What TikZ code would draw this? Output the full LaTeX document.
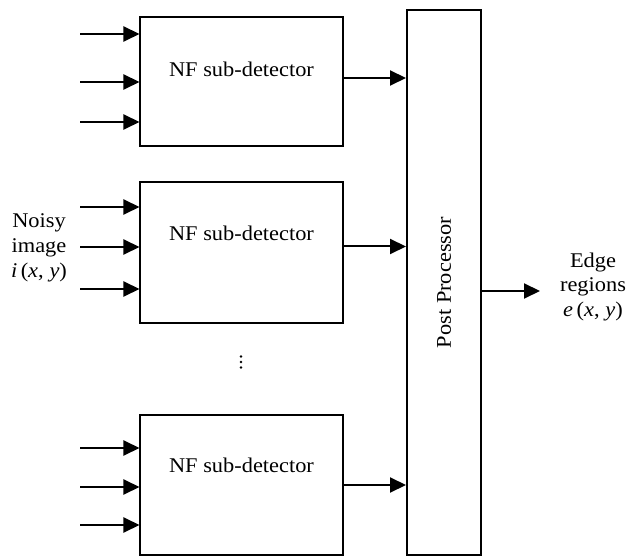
\documentclass[tikz,border=0pt]{standalone}
\usepackage{fontspec}
\setmainfont{Liberation Serif}[FakeStretch=1.07]
\usetikzlibrary{arrows.meta,positioning}

\begin{document}
\begin{tikzpicture}[
  x=0.5bp, y=-0.5bp,
  font=\fontsize{10.5}{12.5}\selectfont,
  det/.style={draw, line width=1bp, minimum width=101bp, inner sep=0pt},
  post/.style={draw, line width=1bp, minimum width=37bp, minimum height=272.5bp, inner sep=0pt},
  lbl/.style={align=center, inner sep=0pt},
  arrow/.style={-{Triangle[length=8bp, width=7.5bp]}, line width=1bp}]
  \useasboundingbox (0,0) rectangle (628,556);
  % sub-detectors
  \node[det, minimum height=64.5bp, label={[anchor=center, yshift=-26.5bp]north:NF sub-detector}] (det1) at (241.5,81.5) {};
  \node[det, minimum height=70.5bp, label={[anchor=center, yshift=-26bp]north:NF sub-detector}] (det2) at (241.5,252.5) {};
  \node[det, minimum height=70bp, label={[anchor=center, yshift=-25.5bp]north:NF sub-detector}] (det3) at (241.5,485) {};
  \node[post] (pp) at (444,282.5) {\rotatebox{90}{Post Processor}};
  \foreach \d in {356.5,362,367.5}
    \fill (241,\d) circle (0.7bp);
  % inputs
  \foreach \k/\y in {1/34,1/82,1/122,2/207,2/247,2/289,3/448,3/487,3/525} {
    \coordinate (in-\y) at (80,\y);
    \draw[arrow] (in-\y) -- (in-\y -| det\k.west);
  }
  \node[lbl] (noisy) at (39,248) {Noisy\\image\\\textit{i\,}(\textit{x},\;\textit{y})};
  % to post processor
  \draw[arrow] ([yshift=1.75bp]det1.east) -- ([yshift=1.75bp]det1.east -| pp.west);
  \draw[arrow] ([yshift=3bp]det2.east) -- ([yshift=3bp]det2.east -| pp.west);
  \draw[arrow] (det3.east) -- (det3.east -| pp.west);
  % output
  \coordinate (out) at (540,291);
  \draw[arrow] (out -| pp.east) -- (out);
  \node[lbl] (edge) at (593,287) {Edge\\regions\\\textit{e\,}(\textit{x},\;\textit{y})};
\end{tikzpicture}
\end{document}
